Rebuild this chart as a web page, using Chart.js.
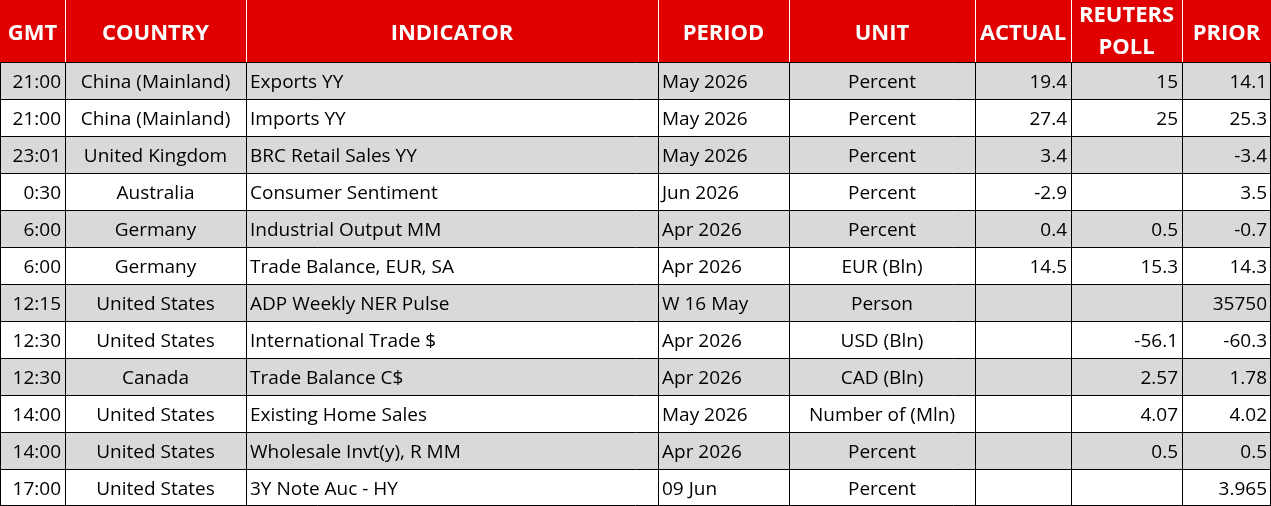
<!DOCTYPE html>
<html lang="en">
<head>
<meta charset="UTF-8">
<title>Economic Calendar</title>
<script src="https://cdn.jsdelivr.net/npm/chart.js"></script>
<style>
  html, body { margin: 0; padding: 0; background: #fff; }
  .wrap { width: 1271px; height: 506px; }
</style>
</head>
<body>
<div class="wrap"><canvas id="table"></canvas></div>
<script>
// table data
const headers = ["GMT", "COUNTRY", "INDICATOR", "PERIOD", "UNIT", "ACTUAL", "REUTERS\nPOLL", "PRIOR"];
const gmt = ["21:00", "21:00", "23:01", "0:30", "6:00", "6:00", "12:15", "12:30", "12:30", "14:00", "14:00", "17:00"];
const country = ["China (Mainland)", "China (Mainland)", "United Kingdom", "Australia", "Germany", "Germany",
  "United States", "United States", "Canada", "United States", "United States", "United States"];
const indicator = ["Exports YY", "Imports YY", "BRC Retail Sales YY", "Consumer Sentiment", "Industrial Output MM",
  "Trade Balance, EUR, SA", "ADP Weekly NER Pulse", "International Trade $", "Trade Balance C$",
  "Existing Home Sales", "Wholesale Invt(y), R MM", "3Y Note Auc - HY"];
const period = ["May 2026", "May 2026", "May 2026", "Jun 2026", "Apr 2026", "Apr 2026", "W 16 May",
  "Apr 2026", "Apr 2026", "May 2026", "Apr 2026", "09 Jun"];
const unit = ["Percent", "Percent", "Percent", "Percent", "Percent", "EUR (Bln)", "Person", "USD (Bln)",
  "CAD (Bln)", "Number of (Mln)", "Percent", "Percent"];
const actual = ["19.4", "27.4", "3.4", "-2.9", "0.4", "14.5", "", "", "", "", "", ""];
const poll = ["15", "25", "", "", "0.5", "15.3", "", "-56.1", "2.57", "4.07", "0.5", ""];
const prior = ["14.1", "25.3", "-3.4", "3.5", "-0.7", "14.3", "35750", "-60.3", "1.78", "4.02", "0.5", "3.965"];

// layout
const colEdges = [0, 65, 246, 658, 789, 975, 1071, 1182, 1271];
const colAlign = ["right", "center", "left", "left", "center", "right", "right", "right"];
const headerH = 62, rowH = 37;
const columns = [gmt, country, indicator, period, unit, actual, poll, prior];

const tablePlugin = {
  id: "tablePlugin",
  afterDraw(chart) {
    const ctx = chart.ctx;
    const xs = chart.scales.x, ys = chart.scales.y;
    const X = v => xs.getPixelForValue(v);
    const Y = v => ys.getPixelForValue(v);
    ctx.save();
    // header
    ctx.fillStyle = "#E00000";
    ctx.fillRect(X(0), Y(0), X(1271) - X(0), Y(headerH) - Y(0));
    ctx.fillStyle = "#fff";
    ctx.font = "bold 22px 'Open Sans', sans-serif";
    ctx.textAlign = "center";
    ctx.textBaseline = "middle";
    headers.forEach((h, c) => {
      const cx = (X(colEdges[c]) + X(colEdges[c + 1])) / 2;
      const lines = h.split("\n");
      lines.forEach((ln, i) => {
        const cy = Y(headerH / 2) + 3 + (i - (lines.length - 1) / 2) * 32 - (lines.length > 1 ? 2 : 0);
        ctx.fillText(ln, cx, cy);
      });
    });
    ctx.strokeStyle = "#fff";
    ctx.lineWidth = 1;
    colEdges.slice(1, -1).forEach(e => {
      ctx.beginPath(); ctx.moveTo(X(e) + 0.5, Y(0)); ctx.lineTo(X(e) + 0.5, Y(headerH)); ctx.stroke();
    });
    // body rows
    ctx.font = "19px 'Open Sans', sans-serif";
    gmt.forEach((_, r) => {
      const top = headerH + r * rowH;
      ctx.fillStyle = r % 2 === 0 ? "#D9D9D9" : "#FFFFFF";
      ctx.fillRect(X(0), Y(top), X(1271) - X(0), Y(top + rowH) - Y(top));
      ctx.fillStyle = "#000";
      columns.forEach((col, c) => {
        const a = colAlign[c];
        ctx.textAlign = a;
        let tx;
        if (a === "left") tx = X(colEdges[c]) + 4;
        else if (a === "right") tx = X(colEdges[c + 1]) - 4;
        else tx = (X(colEdges[c]) + X(colEdges[c + 1])) / 2;
        ctx.fillText(col[r], tx, Y(top + rowH / 2) + 2);
      });
    });
    // grid lines
    ctx.strokeStyle = "#000";
    ctx.lineWidth = 1;
    const bottom = headerH + gmt.length * rowH;
    colEdges.forEach(e => {
      const px = Math.min(Math.round(X(e)), X(1271) - 1) + 0.5;
      ctx.beginPath(); ctx.moveTo(px, Y(headerH)); ctx.lineTo(px, Y(bottom)); ctx.stroke();
    });
    for (let r = 0; r <= gmt.length; r++) {
      const py = Math.min(Math.round(Y(headerH + r * rowH)), Y(bottom) - 1) + 0.5;
      ctx.beginPath(); ctx.moveTo(X(0), py); ctx.lineTo(X(1271), py); ctx.stroke();
    }
    ctx.restore();
  }
};

new Chart(document.getElementById("table"), {
  type: "scatter",
  data: { datasets: [] },
  options: {
    responsive: true,
    maintainAspectRatio: false,
    animation: false,
    layout: { padding: 0 },
    plugins: { legend: { display: false }, tooltip: { enabled: false } },
    scales: {
      x: { type: "linear", min: 0, max: 1271, display: false },
      y: { type: "linear", min: 0, max: 506, reverse: true, display: false }
    }
  },
  plugins: [tablePlugin]
});
</script>
</body>
</html>
